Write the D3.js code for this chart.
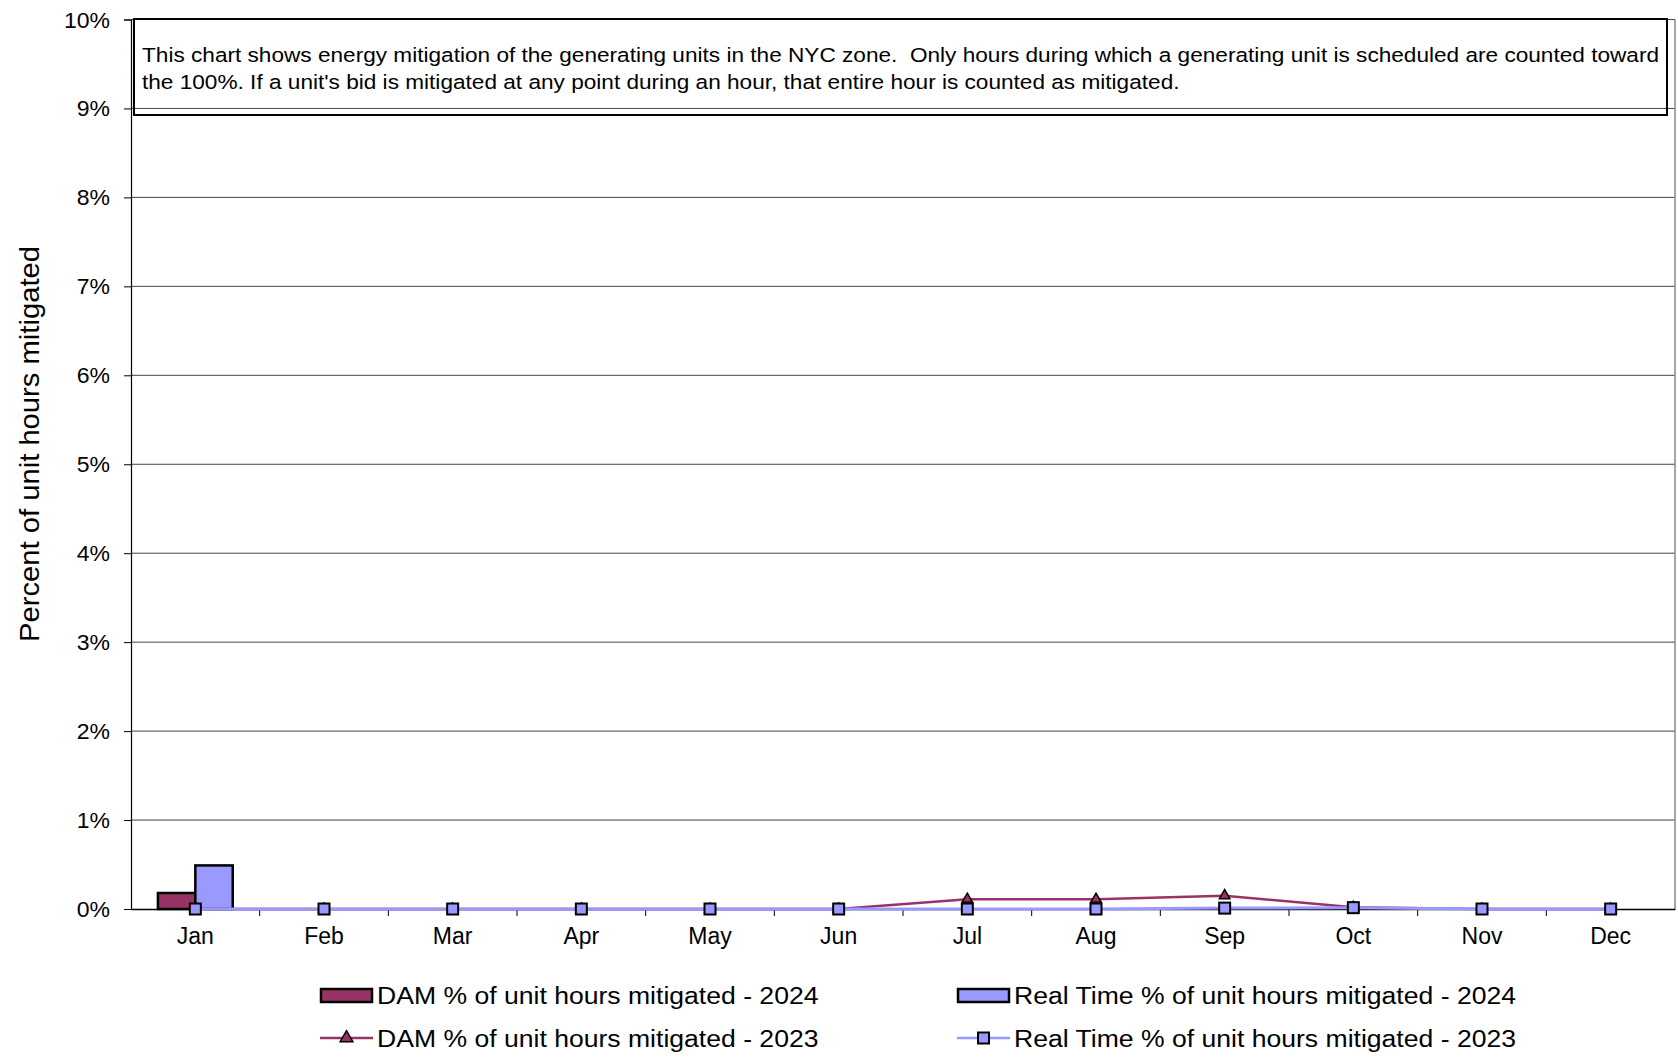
<!DOCTYPE html>
<html><head><meta charset="utf-8">
<script src="https://cdn.jsdelivr.net/npm/d3@7"></script>
<style>body{margin:0;background:#fff;font-family:"Liberation Sans",Arial,sans-serif;}</style>
</head><body><svg id="c" width="1678" height="1061"></svg>
<script>
const months = ["Jan","Feb","Mar","Apr","May","Jun","Jul","Aug","Sep","Oct","Nov","Dec"];
const yTicks = [0,1,2,3,4,5,6,7,8,9,10];
const dam2024 = [0.18,null,null,null,null,null,null,null,null,null,null,null];
const rt2024  = [0.49,null,null,null,null,null,null,null,null,null,null,null];
const dam2023 = [0,0,0,0,0,0,0.11,0.11,0.15,0.02,0,0];
const rt2023  = [0,0,0,0,0,0,0,0,0.01,0.015,0,0];
const noteLines = ["This chart shows energy mitigation of the generating units in the NYC zone.  Only hours during which a generating unit is scheduled are counted toward",
                   "the 100%. If a unit's bid is mitigated at any point during an hour, that entire hour is counted as mitigated."];
const legendItems = [
  {label:"DAM % of unit hours mitigated - 2024", type:"bar", color:"#993366", col:0, row:0},
  {label:"Real Time % of unit hours mitigated - 2024", type:"bar", color:"#9999FF", col:1, row:0},
  {label:"DAM % of unit hours mitigated - 2023", type:"tri", color:"#993366", col:0, row:1},
  {label:"Real Time % of unit hours mitigated - 2023", type:"sq", color:"#9999FF", col:1, row:1}
];
const DAM="#993366", RT="#9999FF";
const svg = d3.select("#c");
const L=131, R=1675, T=19.5, B=909;
const x = d3.scaleBand().domain(months).range([L,R]).padding(0);
const y = d3.scaleLinear().domain([0,10]).range([B,T]);
const xs = d3.scaleBand().domain(["DAM","RT"]).range([0,x.bandwidth()]).paddingInner(0).paddingOuter(0.72);

// horizontal stretch helper (reference text is slightly wider than tall)
function stretch(sel, k){
  sel.each(function(){ const n=this.getComputedTextLength(); d3.select(this).attr("textLength",n*k).attr("lengthAdjust","spacingAndGlyphs"); });
}

// gridlines
svg.append("g").selectAll("line").data(yTicks.filter(d=>d>0)).join("line")
  .attr("x1",L).attr("x2",R).attr("y1",d=>y(d)).attr("y2",d=>y(d))
  .attr("stroke","#444").attr("stroke-width",1);
svg.append("line").attr("x1",R).attr("x2",R).attr("y1",T).attr("y2",B).attr("stroke","#888").attr("stroke-width",1.5);

// y axis
const ya = svg.append("g").attr("transform",`translate(${L},0)`)
  .call(d3.axisLeft(y).tickValues(yTicks).tickFormat(d=>d+"%").tickSize(7).tickPadding(14));
ya.select(".domain").attr("stroke","#000").attr("stroke-width",1.2);
ya.selectAll(".tick line").attr("stroke","#000");
ya.selectAll("text").attr("font-size","21.5px").attr("font-family","Liberation Sans, Arial, sans-serif").attr("fill","#000").attr("dy","0.35em");
stretch(ya.selectAll("text"),1.07);

// bars
const barData = [];
months.forEach((m,i)=>{
  if(dam2024[i]!=null) barData.push({m, s:"DAM", v:dam2024[i], c:DAM});
  if(rt2024[i]!=null) barData.push({m, s:"RT", v:rt2024[i], c:RT});
});
svg.append("g").selectAll("rect").data(barData).join("rect")
  .attr("x",d=>x(d.m)+xs(d.s)).attr("width",xs.bandwidth())
  .attr("y",d=>y(d.v)).attr("height",d=>y(0)-y(d.v))
  .attr("fill",d=>d.c).attr("stroke","#000").attr("stroke-width",2.5);

// x axis
const xa = svg.append("g").attr("transform",`translate(0,${B})`)
  .call(d3.axisBottom(x).tickSize(0).tickPadding(19));
xa.select(".domain").attr("stroke","#000").attr("stroke-width",1.5);
xa.selectAll("text").attr("font-size","23px").attr("font-family","Liberation Sans, Arial, sans-serif").attr("fill","#000");
svg.append("g").selectAll("line").data(d3.range(1,12)).join("line")
  .attr("x1",i=>x(months[i])).attr("x2",i=>x(months[i])).attr("y1",B).attr("y2",B+7)
  .attr("stroke","#000").attr("stroke-width",1);

// lines
const cx = m => x(m)+x.bandwidth()/2;
const lineGen = arr => d3.line().x((d,i)=>cx(months[i])).y(d=>y(d))(arr);
svg.append("path").attr("d",lineGen(dam2023)).attr("fill","none").attr("stroke",DAM).attr("stroke-width",2.5);
svg.append("path").attr("d",lineGen(rt2023)).attr("fill","none").attr("stroke",RT).attr("stroke-width",3);
const tri = d3.symbol().type(d3.symbolTriangle).size(48);
svg.append("g").selectAll("path").data(dam2023).join("path")
  .attr("d",tri).attr("transform",(d,i)=>`translate(${cx(months[i])},${y(d)})`)
  .attr("fill",DAM).attr("stroke","#000").attr("stroke-width",1.5);
svg.append("g").selectAll("rect").data(rt2023).join("rect")
  .attr("x",(d,i)=>cx(months[i])-5.5).attr("y",d=>y(d)-5.5).attr("width",11).attr("height",11)
  .attr("fill",RT).attr("stroke","#000").attr("stroke-width",2);

// note box
svg.append("rect").attr("x",134).attr("y",19).attr("width",1533).attr("height",96)
  .attr("fill","none").attr("stroke","#000").attr("stroke-width",2);
const nt = svg.append("g").selectAll("text").data(noteLines).join("text")
  .attr("x",142).attr("y",(d,i)=>62+i*26.5).text(d=>d)
  .attr("font-size","20.5px").attr("fill","#000").style("white-space","pre");
{ const n0 = nt.nodes()[0].getComputedTextLength(); stretch(nt, 1517/n0); }

// y title
svg.append("text").attr("transform","translate(39,444) rotate(-90)").attr("text-anchor","middle")
  .attr("font-size","28px").attr("fill","#000").text("Percent of unit hours mitigated")
  .call(s=>stretch(s, 396/s.node().getComputedTextLength()));

// legend
const colX=[320,957], rowY=[995.5,1038];
const lg = svg.append("g");
const tri2 = d3.symbol().type(d3.symbolTriangle).size(70);
legendItems.forEach(it=>{
  const x0=colX[it.col], yy=rowY[it.row];
  const g=lg.append("g");
  const w = 53;
  if(it.type==="bar"){
    g.append("rect").attr("x",x0+1).attr("y",yy-6.5).attr("width",w-2).attr("height",13)
      .attr("fill",it.color).attr("stroke","#000").attr("stroke-width",2.5);
  } else {
    g.append("line").attr("x1",x0).attr("x2",x0+w).attr("y1",yy).attr("y2",yy).attr("stroke",it.color).attr("stroke-width",2.5);
    if(it.type==="tri") g.append("path").attr("d",tri2).attr("transform",`translate(${x0+26.5},${yy})`).attr("fill",it.color).attr("stroke","#000").attr("stroke-width",1.5);
    else g.append("rect").attr("x",x0+26.5-5.5).attr("y",yy-5.5).attr("width",11).attr("height",11).attr("fill",it.color).attr("stroke","#000").attr("stroke-width",2);
  }
  g.append("text").attr("class","lt").attr("x",x0+w+4).attr("y",yy+8.5)
    .attr("font-size","23.5px").attr("fill","#000").text(it.label);
});
{ const ref = lg.selectAll("text.lt").nodes()[1].getComputedTextLength(); stretch(lg.selectAll("text.lt"), 502/ref); }
</script></body></html>
